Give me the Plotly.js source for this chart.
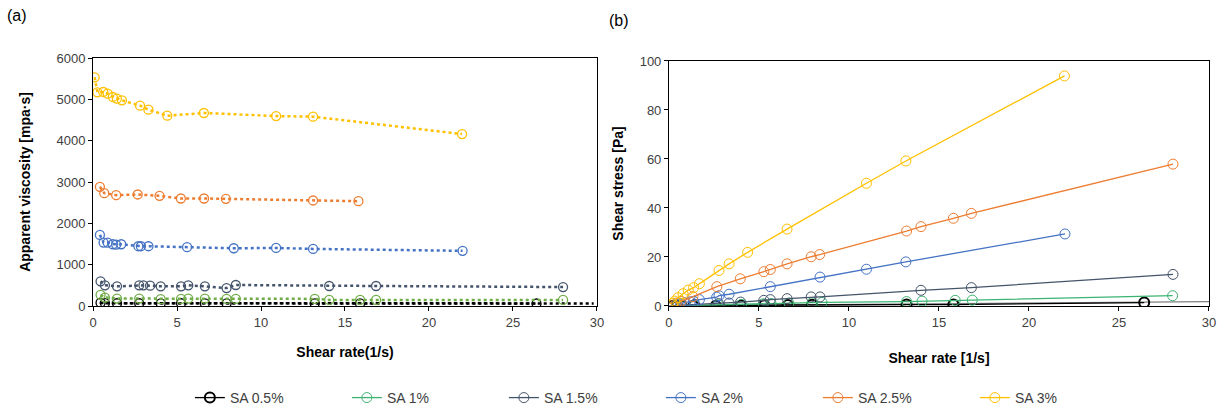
<!DOCTYPE html>
<html>
<head>
<meta charset="utf-8">
<script src="https://cdn.plot.ly/plotly-3.0.1.min.js"></script>
<style>html,body{margin:0;padding:0;background:#fff;}#chart{width:1225px;height:412px;}</style>
</head>
<body>
<div id="chart"></div>
<script>
// ---------- Series names ----------
const seriesNames = ["SA 0.5%", "SA 1%", "SA 1.5%", "SA 2%", "SA 2.5%", "SA 3%"];

// ---------- (a) Apparent viscosity [mPa·s] vs shear rate ----------
const visc05X = [0.45, 0.71, 1.43, 2.75, 4.03, 5.24, 6.66, 7.95, 13.2, 15.9, 26.4];
const visc05Y = [80, 70, 66, 66, 64, 66, 64, 64, 64, 62, 60];
const visc05TrendX = [0.4, 29.8];
const visc05TrendY = [70, 62];

const visc1X = [0.45, 0.71, 1.43, 2.75, 4.03, 5.24, 5.67, 6.66, 7.95, 8.5, 13.2, 14.06, 15.9, 16.85, 27.98];
const visc1Y = [270, 205, 180, 180, 164, 172, 180, 180, 172, 172, 172, 148, 148, 148, 148];

const visc15X = [0.45, 0.71, 1.43, 2.75, 3.0, 3.4, 4.03, 5.24, 5.67, 6.66, 7.95, 8.5, 14.06, 16.85, 27.98];
const visc15Y = [598, 500, 475, 500, 500, 492, 475, 475, 500, 475, 434, 508, 484, 484, 459];

const visc2X = [0.41, 0.63, 0.87, 1.18, 1.38, 1.68, 2.7, 2.85, 3.3, 5.6, 8.38, 10.9, 13.1, 22.0];
const visc2Y = [1720, 1535, 1535, 1494, 1486, 1494, 1446, 1446, 1446, 1422, 1397, 1405, 1381, 1335];

const visc25X = [0.41, 0.67, 1.38, 2.66, 3.96, 5.23, 6.61, 7.91, 13.1, 15.8];
const visc25Y = [2884, 2730, 2682, 2698, 2666, 2601, 2601, 2593, 2553, 2536];

const visc3X = [0.1, 0.26, 0.61, 0.87, 1.18, 1.42, 1.72, 2.8, 3.3, 4.42, 6.6, 10.9, 13.1, 21.97];
const visc3Y = [5533, 5170, 5178, 5137, 5057, 5016, 4976, 4847, 4750, 4604, 4669, 4596, 4580, 4160];

// ---------- (b) Shear stress [Pa] vs shear rate ----------
const stress05X = [0.2, 0.45, 0.71, 1.35, 2.6, 4.0, 5.3, 6.6, 7.95, 13.2, 15.8, 26.4];
const stress05Y = [0, 0, 0, 0, 0.1, 0.2, 0.3, 0.4, 0.5, 0.6, 0.6, 1.4];
const stress05TrendX = [0, 30];
const stress05TrendY = [0, 1.8];

const stress1X = [0.45, 0.71, 1.43, 2.75, 4.03, 5.24, 5.67, 6.66, 7.95, 8.5, 13.2, 14.06, 15.9, 16.85, 27.98];
const stress1Y = [0.1, 0.15, 0.25, 0.5, 0.65, 0.9, 1.0, 1.2, 1.35, 1.45, 1.8, 2.0, 2.3, 2.4, 4.2];

const stress15X = [0.45, 0.71, 1.43, 2.75, 3.34, 3.98, 5.27, 5.63, 6.56, 7.9, 8.39, 14.0, 16.8, 28.0];
const stress15Y = [0.27, 0.36, 0.7, 1.0, 1.2, 1.6, 2.3, 2.6, 3.0, 3.7, 3.7, 6.4, 7.5, 12.9];

const stress2X = [0.41, 0.63, 0.87, 1.18, 1.37, 1.69, 2.65, 2.78, 3.34, 5.63, 8.39, 10.97, 13.16, 22.0];
const stress2Y = [0.7, 1.0, 1.3, 1.7, 1.9, 2.6, 3.6, 4.2, 4.8, 7.9, 11.8, 15.0, 18.0, 29.4];

const stress25X = [0.41, 0.67, 1.33, 2.66, 3.96, 5.27, 5.63, 6.56, 7.9, 8.37, 13.2, 14.0, 15.8, 16.8, 28.0];
const stress25Y = [1.2, 1.9, 3.8, 7.9, 11.1, 14.0, 14.9, 17.2, 20.1, 21.0, 30.6, 32.4, 35.8, 37.8, 57.9];

const stress3X = [0.2, 0.32, 0.5, 0.78, 1.07, 1.37, 1.69, 2.78, 3.34, 4.37, 6.56, 10.97, 13.16, 21.97];
const stress3Y = [1.0, 2.0, 3.4, 5.0, 6.5, 7.5, 9.1, 14.5, 17.2, 21.9, 31.4, 50.1, 59.2, 93.9];

// ---------- Colours ----------
const leftColors = ["#000000", "#70AD47", "#44546A", "#4472C4", "#ED7D31", "#FFC000"];
const rightColors = ["#000000", "#3CB371", "#44546A", "#4472C4", "#ED7D31", "#FFC000"];

const viscX = [visc05X, visc1X, visc15X, visc2X, visc25X, visc3X];
const viscY = [visc05Y, visc1Y, visc15Y, visc2Y, visc25Y, visc3Y];
const stressX = [stress05X, stress1X, stress15X, stress2X, stress25X, stress3X];
const stressY = [stress05Y, stress1Y, stress15Y, stress2Y, stress25Y, stress3Y];

const FONT = "Liberation Sans, Arial, sans-serif";
const traces = [];

// left trend for SA 0.5%
traces.push({x: visc05TrendX, y: visc05TrendY, xaxis: "x", yaxis: "y", mode: "lines",
  line: {color: "#000000", width: 2.5, dash: "dot"}, showlegend: false, hoverinfo: "skip"});

for (let i = 0; i < 6; i++) {
  traces.push({
    x: viscX[i], y: viscY[i], xaxis: "x", yaxis: "y", mode: "lines+markers",
    name: seriesNames[i], showlegend: false,
    line: {color: leftColors[i], width: 2.5, dash: "dot"},
    marker: {symbol: "circle-open", size: 9, color: leftColors[i], line: {width: 1.3, color: leftColors[i]}}
  });
}

// right trend for SA 0.5%
traces.push({x: stress05TrendX, y: stress05TrendY, xaxis: "x2", yaxis: "y2", mode: "lines",
  line: {color: "#7F7F7F", width: 1.3}, showlegend: false, hoverinfo: "skip"});

for (let i = 0; i < 6; i++) {
  traces.push({
    x: stressX[i], y: stressY[i], xaxis: "x2", yaxis: "y2", mode: "lines+markers",
    name: seriesNames[i], showlegend: true,
    line: {color: rightColors[i], width: 1.3},
    marker: {symbol: "circle-open", size: 10, color: rightColors[i],
             line: {width: i === 0 ? 2 : 1, color: rightColors[i]}}
  });
}

const axisBase = {
  showline: true, mirror: true, linecolor: "#000000", linewidth: 1,
  showgrid: false, zeroline: false, ticks: "outside", ticklen: 4, tickcolor: "#000000",
  tickfont: {family: FONT, size: 13, color: "#404040"}
};
const titleFont = {family: FONT, size: 14, color: "#000000", weight: "bold"};

const layout = {
  width: 1225, height: 412,
  margin: {l: 93, r: 16, t: 58, b: 106, autoexpand: false},
  paper_bgcolor: "#ffffff", plot_bgcolor: "#ffffff",
  font: {family: FONT},
  showlegend: true,
  xaxis: Object.assign({}, axisBase, {domain: [0, 0.4516], range: [0, 30], dtick: 5, anchor: "y",
    title: {text: "<b>Shear rate(1/s)</b>", font: titleFont, standoff: 18}}),
  yaxis: Object.assign({}, axisBase, {domain: [0, 1], range: [0, 6000], dtick: 1000, anchor: "x",
    title: {text: "<b>Apparent viscosity [mpa·s]</b>", font: titleFont, standoff: 22}}),
  xaxis2: Object.assign({}, axisBase, {domain: [0.5161, 1], range: [0, 30], dtick: 5, anchor: "y2",
    title: {text: "<b>Shear rate [1/s]</b>", font: titleFont, standoff: 24}}),
  yaxis2: Object.assign({}, axisBase, {domain: [0, 0.988], range: [0, 100], dtick: 20, anchor: "x2",
    title: {text: "<b>Shear stress [Pa]</b>", font: titleFont, standoff: 12}}),
  legend: {orientation: "h", xref: "container", yref: "container", x: 0.155, xanchor: "left",
    y: 0.034, yanchor: "middle",
    entrywidth: 112, entrywidthmode: "pixels",
    font: {family: FONT, size: 14, color: "#404040"}, bgcolor: "rgba(0,0,0,0)"},
  annotations: [
    {text: "(a)", xref: "paper", yref: "paper", x: -0.0789, y: 1.173, xanchor: "left", yanchor: "middle",
     showarrow: false, font: {family: FONT, size: 16, color: "#000000"}},
    {text: "(b)", xref: "paper", yref: "paper", x: 0.4606, y: 1.153, xanchor: "left", yanchor: "middle",
     showarrow: false, font: {family: FONT, size: 16, color: "#000000"}}
  ]
};

Plotly.newPlot("chart", traces, layout, {staticPlot: true, displayModeBar: false});
</script>
</body>
</html>
